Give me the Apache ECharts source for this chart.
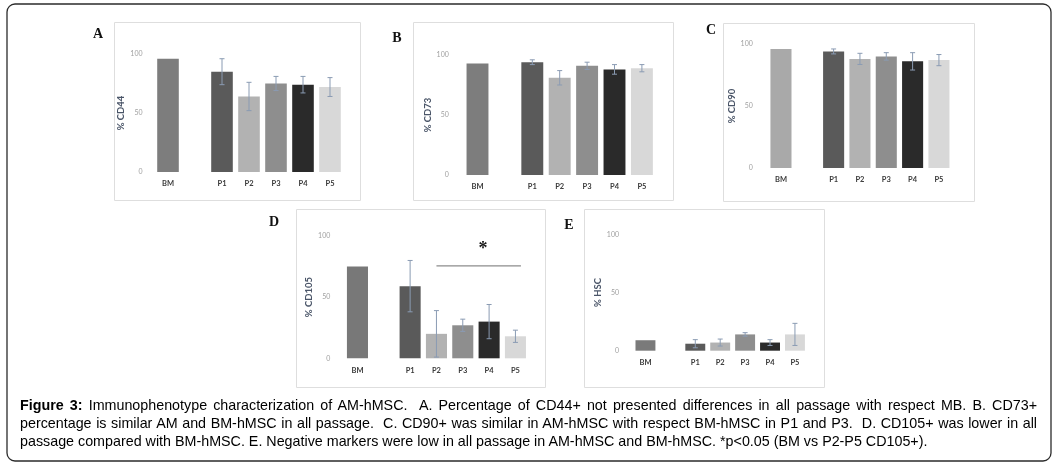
<!DOCTYPE html>
<html>
<head>
<meta charset="utf-8">
<script src="https://cdn.jsdelivr.net/npm/echarts@6/dist/echarts.min.js"></script>
<style>
html,body{margin:0;padding:0;background:#fff;}
#wrap{position:relative;width:1061px;height:466px;}
#chart{position:absolute;left:0;top:0;width:1061px;height:466px;}
#caption{position:absolute;left:20px;top:396px;width:1017px;font-family:"Liberation Sans",Arial,sans-serif;font-size:14.3px;line-height:18px;color:#000;}
#caption .j{text-align:justify;text-align-last:justify;white-space:nowrap;}
#caption .l{text-align:left;white-space:nowrap;}
</style>
</head>
<body>
<div id="wrap">
<div id="chart"></div>
<div id="caption">
<div class="j"><b>Figure 3:</b> Immunophenotype characterization of AM-hMSC.&nbsp; A. Percentage of CD44+ not presented differences in all passage with respect MB. B. CD73+</div>
<div class="j">percentage is similar AM and BM-hMSC in all passage.&nbsp; C. CD90+ was similar in AM-hMSC with respect BM-hMSC in P1 and P3.&nbsp; D. CD105+ was lower in all</div>
<div class="l">passage compared with BM-hMSC. E. Negative markers were low in all passage in AM-hMSC and BM-hMSC. *p&lt;0.05 (BM vs P2-P5 CD105+).</div>
</div>
</div>
<script>
// ---- data ----
const categories = ['BM', '', 'P1', 'P2', 'P3', 'P4', 'P5'];
const yTicks = [0, 50, 100];
const cd44 = [96, null, 85, 64, 75, 74, 72];
const cd44Err = [null, null, 11, 12, 6, 7, 8];
const cd73 = [93, null, 94, 81, 91, 88, 89];
const cd73Err = [null, null, 2, 6, 3, 4, 3];
const cd90 = [96, null, 94, 88, 90, 86, 87];
const cd90Err = [null, null, 2, 4.5, 3, 7, 4.5];
const cd105 = [75, null, 59, 20, 27, 30, 18];
const cd105Err = [null, null, 21, 19, 5, 14, 5];
const hsc = [9, null, 6, 7, 14, 7, 14];
const hscErr = [null, null, 3.5, 3, 1.5, 2.5, 9.5];
const panelNames = ['% CD44', '% CD73', '% CD90', '% CD105', '% HSC'];
const panelLetters = ['A', 'B', 'C', 'D', 'E'];
const sigFrom = 'P2', sigTo = 'P5', sigLevel = 75.5, sigStarLevel = 89, sigMark = '*';

// ---- styling / layout ----
const barColors = ['#7d7d7d', '#ffffff', '#5a5a5a', '#b2b2b2', '#8e8e8e', '#2a2a2a', '#d8d8d8'];
const bmColors = ['#7d7d7d', '#7d7d7d', '#a9a9a9', '#787878', '#7a7a7a'];
const grids = [
  {left: 154.5, top: 54, width: 189, height: 118, gap: 26, lm: 12},
  {left: 463.8, top: 55, width: 191.8, height: 120, gap: 27, lm: 15},
  {left: 767.8, top: 44, width: 184.3, height: 124, gap: 26, lm: 15},
  {left: 344.3, top: 236, width: 184.3, height: 122.3, gap: 29, lm: 14},
  {left: 633, top: 234.3, width: 174.4, height: 116.4, gap: 30, lm: 14}
];
const frames = [
  [114, 22, 246, 178], [413, 22, 260, 178], [723, 23, 251, 178],
  [296, 209, 249, 178], [584, 209, 240, 178]
];
const letterPos = [[98, 34], [397, 38], [711, 30], [274, 222], [569, 225]];
const values = [cd44, cd73, cd90, cd105, hsc];
const errs = [cd44Err, cd73Err, cd90Err, cd105Err, hscErr];

const chart = echarts.init(document.getElementById('chart'), null, {renderer: 'canvas'});

const option = {
  animation: false,
  backgroundColor: '#ffffff',
  grid: grids.map(g => ({left: g.left, top: g.top, width: g.width, height: g.height, containLabel: false})),
  xAxis: grids.map((g, i) => ({
    type: 'category', gridIndex: i, data: categories,
    axisLine: {show: false}, axisTick: {show: false},
    axisLabel: {interval: 0, margin: 8, fontFamily: 'Lato', fontWeight: 'bold', fontSize: 7.5, color: '#3a3a3a'}
  })),
  yAxis: grids.map((g, i) => ({
    type: 'value', gridIndex: i, min: yTicks[0], max: yTicks[yTicks.length - 1], interval: yTicks[1] - yTicks[0],
    name: panelNames[i], nameLocation: 'middle', nameGap: g.gap,
    nameTextStyle: {fontFamily: 'Lato', fontWeight: 'bold', fontSize: 9.5, color: '#4a5568'},
    axisLine: {show: false}, axisTick: {show: false}, splitLine: {show: false},
    axisLabel: {margin: g.lm, fontFamily: 'Lato', fontSize: 7, color: '#a0a0a0'}
  })),
  series: [],
  graphic: []
};

values.forEach((vals, i) => {
  option.series.push({
    type: 'bar', xAxisIndex: i, yAxisIndex: i, barWidth: '80%',
    data: vals.map((v, k) => ({
      value: v,
      itemStyle: {color: k === 0 ? bmColors[i] : barColors[k]}
    })),
    z: 2
  });
  const eData = [];
  vals.forEach((v, k) => { if (v != null && errs[i][k] != null) eData.push([k, v, errs[i][k]]); });
  option.series.push({
    type: 'custom', xAxisIndex: i, yAxisIndex: i, z: 5,
    data: eData,
    renderItem: function (params, api) {
      const x = api.value(0), v = api.value(1), e = api.value(2);
      const hi = api.coord([x, v + e]);
      const lo = api.coord([x, Math.max(0, v - e)]);
      const cw = 2.5;
      const st = {stroke: '#8a9bb3', lineWidth: 1};
      return {type: 'group', children: [
        {type: 'line', shape: {x1: hi[0], y1: hi[1], x2: lo[0], y2: lo[1]}, style: st},
        {type: 'line', shape: {x1: hi[0] - cw, y1: hi[1], x2: hi[0] + cw, y2: hi[1]}, style: st},
        {type: 'line', shape: {x1: lo[0] - cw, y1: lo[1], x2: lo[0] + cw, y2: lo[1]}, style: st}
      ]};
    }
  });
});

// significance line in panel D
option.series.push({
  type: 'custom', xAxisIndex: 3, yAxisIndex: 3, z: 6,
  data: [[categories.indexOf(sigFrom), categories.indexOf(sigTo), sigLevel, sigStarLevel]],
  renderItem: function (params, api) {
    const a = api.coord([api.value(0), api.value(2)]);
    const b = api.coord([api.value(1), api.value(2)]);
    const sy = api.coord([api.value(0), api.value(3)])[1];
    const sx = a[0] + (b[0] - a[0]) * 0.59;
    return {type: 'group', children: [
      {type: 'line', shape: {x1: a[0], y1: a[1], x2: b[0] + 5.5, y2: b[1]}, style: {stroke: '#8c8c8c', lineWidth: 1.3}},
      {type: 'text', x: sx, y: sy, style: {text: sigMark, fontFamily: 'Liberation Serif', fontWeight: 'bold', fontSize: 18, fill: '#1a1a1a', align: 'center', verticalAlign: 'middle'}}
    ]};
  }
});

// outer frame
option.graphic.push({type: 'rect', shape: {x: 7, y: 4, width: 1044, height: 457, r: 8}, style: {fill: null, stroke: '#2b2b2b', lineWidth: 1.3}, z: 0, silent: true});
frames.forEach(f => {
  option.graphic.push({type: 'rect', shape: {x: f[0] + 0.5, y: f[1] + 0.5, width: f[2], height: f[3]}, style: {fill: null, stroke: '#dedede', lineWidth: 1}, z: 0, silent: true});
});
letterPos.forEach((p, i) => {
  option.graphic.push({type: 'text', x: p[0], y: p[1], style: {text: panelLetters[i], fontFamily: 'Liberation Serif', fontWeight: 'bold', fontSize: 14, fill: '#111', align: 'center', verticalAlign: 'middle'}, z: 10});
});

chart.setOption(option);
</script>
</body>
</html>
